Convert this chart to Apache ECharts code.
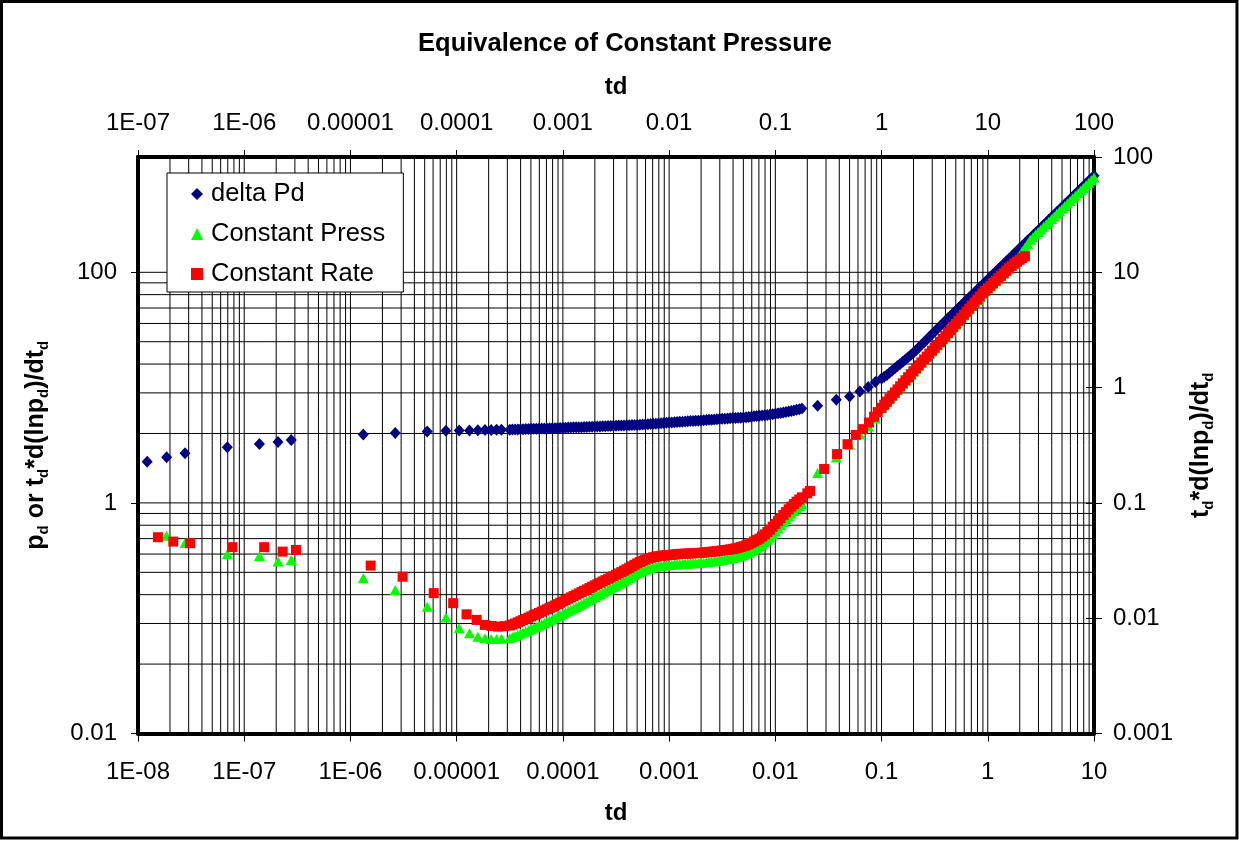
<!DOCTYPE html>
<html>
<head>
<meta charset="utf-8">
<title>Equivalence of Constant Pressure</title>
<script src="https://cdn.jsdelivr.net/npm/echarts@6/dist/echarts.min.js"></script>
<style>
  html, body { margin: 0; padding: 0; background: #fff; }
  #chart { width: 1239px; height: 841px; }
</style>
</head>
<body>
<div id="chart"></div>
<script>
// Dimensionless time (top axis) shared by the delta Pd and Constant Press series
const tdPress = [
  1.22e-7, 1.86e-7, 2.77e-7, 6.93e-7, 1.39e-6, 2.08e-6, 2.77e-6, 1.32e-5, 2.64e-5, 5.28e-5,
  7.92e-5, 1.056e-4, 1.32e-4, 1.584e-4, 1.848e-4, 2.112e-4, 2.376e-4, 2.64e-4,
  3.162e-4, 3.350e-4, 3.548e-4, 3.758e-4, 3.981e-4, 4.217e-4, 4.467e-4, 4.732e-4, 5.012e-4, 5.309e-4,
  5.623e-4, 5.957e-4, 6.310e-4, 6.683e-4, 7.079e-4, 7.499e-4, 7.943e-4, 8.414e-4, 8.913e-4, 9.441e-4,
  1.000e-3, 1.059e-3, 1.122e-3, 1.189e-3, 1.259e-3, 1.334e-3, 1.413e-3, 1.496e-3, 1.585e-3, 1.679e-3,
  1.778e-3, 1.884e-3, 1.995e-3, 2.113e-3, 2.239e-3, 2.371e-3, 2.512e-3, 2.661e-3, 2.818e-3, 2.985e-3,
  3.162e-3, 3.350e-3, 3.548e-3, 3.758e-3, 3.981e-3, 4.217e-3, 4.467e-3, 4.732e-3, 5.012e-3, 5.309e-3,
  5.623e-3, 5.957e-3, 6.310e-3, 6.683e-3, 7.079e-3, 7.499e-3, 7.943e-3, 8.414e-3, 8.913e-3, 9.441e-3,
  1.000e-2, 1.059e-2, 1.122e-2, 1.189e-2, 1.259e-2, 1.334e-2, 1.413e-2, 1.496e-2, 1.585e-2, 1.679e-2,
  1.778e-2, 1.884e-2, 1.995e-2, 2.113e-2, 2.239e-2, 2.371e-2, 2.512e-2, 2.661e-2, 2.818e-2, 2.985e-2,
  3.162e-2, 3.350e-2, 3.548e-2, 3.758e-2, 3.981e-2, 4.217e-2, 4.467e-2, 4.732e-2, 5.012e-2, 5.309e-2,
  5.623e-2, 5.957e-2, 6.310e-2, 6.683e-2, 7.079e-2, 7.499e-2, 7.943e-2, 8.414e-2, 8.913e-2, 9.441e-2,
  0.1000, 0.1059, 0.1122, 0.1189, 0.1259, 0.1334, 0.1413, 0.1496, 0.1585, 0.1679, 0.1778,
  0.25, 0.375, 0.5, 0.625, 0.75, 0.875,
  1.000, 1.059, 1.122, 1.189, 1.259, 1.334, 1.413, 1.496, 1.585, 1.679,
  1.778, 1.884, 1.995, 2.113, 2.239, 2.371, 2.512, 2.661, 2.818, 2.985,
  3.162, 3.350, 3.548, 3.758, 3.981, 4.217, 4.467, 4.732, 5.012, 5.309,
  5.623, 5.957, 6.310, 6.683, 7.079, 7.499, 7.943, 8.414, 8.913, 9.441,
  10.00, 10.59, 11.22, 11.89, 12.59, 13.34, 14.13, 14.96, 15.85, 16.79,
  17.78, 18.84, 19.95, 21.13, 22.39, 23.71, 25.12, 26.61, 28.18, 29.85,
  31.62, 33.50, 35.48, 37.58, 39.81, 42.17, 44.67, 47.32, 50.12, 53.09,
  56.23, 59.57, 63.10, 66.83, 70.79, 74.99, 79.43, 84.14, 89.13, 94.41, 100.0
];

// delta Pd
const pdDelta = [
  2.28, 2.49, 2.70, 3.04, 3.25, 3.38, 3.52, 3.92, 4.03, 4.16,
  4.22, 4.24, 4.25, 4.27, 4.28, 4.29, 4.30, 4.31,
  4.32, 4.325, 4.33, 4.34, 4.35, 4.36, 4.37, 4.38, 4.39, 4.395,
  4.40, 4.405, 4.41, 4.415, 4.42, 4.43, 4.44, 4.45, 4.46, 4.47,
  4.48, 4.49, 4.50, 4.51, 4.52, 4.525, 4.53, 4.54, 4.55, 4.56,
  4.57, 4.58, 4.59, 4.60, 4.61, 4.62, 4.63, 4.64, 4.65, 4.66,
  4.67, 4.68, 4.69, 4.70, 4.71, 4.72, 4.73, 4.74, 4.75, 4.765,
  4.78, 4.795, 4.81, 4.83, 4.85, 4.87, 4.89, 4.91, 4.93, 4.95,
  4.97, 4.99, 5.01, 5.03, 5.05, 5.065, 5.08, 5.10, 5.12, 5.135,
  5.15, 5.17, 5.19, 5.21, 5.23, 5.25, 5.27, 5.295, 5.32, 5.34,
  5.36, 5.38, 5.40, 5.42, 5.44, 5.455, 5.47, 5.49, 5.51, 5.54,
  5.57, 5.60, 5.63, 5.665, 5.70, 5.73, 5.76, 5.80, 5.84, 5.885,
  5.93, 5.98, 6.03, 6.085, 6.14, 6.20, 6.26, 6.335, 6.41, 6.50, 6.59,
  6.95, 7.83, 8.37, 9.25, 10.1, 11.2,
  12.0, 12.44, 12.89, 13.47, 14.07, 14.70, 15.36, 16.05, 16.77, 17.52,
  18.31, 19.16, 20.04, 21.13, 22.27, 23.48, 24.76, 26.14, 27.59, 29.09,
  30.67, 32.33, 34.09, 35.94, 37.89, 39.90, 42.02, 44.25, 46.60, 49.08,
  51.68, 54.43, 57.32, 60.36, 63.57, 66.94, 70.50, 74.24, 78.18, 82.33,
  86.71, 91.31, 96.16, 101.3, 106.6, 112.3, 118.3, 124.5, 131.1, 138.1,
  145.4, 153.2, 161.3, 169.9, 178.9, 188.4, 198.4, 208.9, 220.0, 231.7,
  244.0, 257.0, 270.6, 285.0, 300.1, 316.1, 332.8, 350.5, 369.1, 388.7,
  409.4, 431.1, 454.0, 478.1, 503.5, 530.3, 558.4, 588.1, 619.3, 652.2, 686.8
];

// Constant Press derivative (no value at the first time step)
const derivPress = [
  null, 0.518, 0.450, 0.359, 0.347, 0.310, 0.320, 0.222, 0.176, 0.126,
  0.1015, 0.0818, 0.0741, 0.0692, 0.0670, 0.0660, 0.0660, 0.0663,
  0.0674, 0.0688, 0.0702, 0.0717, 0.0733, 0.0750, 0.0768, 0.0787, 0.0807, 0.0826,
  0.0845, 0.0866, 0.0888, 0.0910, 0.0932, 0.0956, 0.0980, 0.1006, 0.1032, 0.1060,
  0.1089, 0.1120, 0.1152, 0.1183, 0.1215, 0.1250, 0.1285, 0.1322, 0.1360, 0.1400,
  0.1441, 0.1483, 0.1526, 0.1570, 0.1614, 0.1662, 0.1711, 0.1760, 0.1809, 0.1862,
  0.1916, 0.1973, 0.2031, 0.2095, 0.2160, 0.2229, 0.2298, 0.2374, 0.2451, 0.2513,
  0.2576, 0.2631, 0.2687, 0.2728, 0.2769, 0.2797, 0.2825, 0.2844, 0.2864, 0.2878,
  0.2893, 0.2907, 0.2922, 0.2940, 0.2957, 0.2963, 0.2969, 0.2978, 0.2987, 0.2996,
  0.3005, 0.3014, 0.3023, 0.3041, 0.3059, 0.3080, 0.3102, 0.3121, 0.3140, 0.3168,
  0.3197, 0.3226, 0.3255, 0.3291, 0.3327, 0.3371, 0.3415, 0.3477, 0.3540, 0.3614,
  0.3692, 0.3802, 0.3920, 0.4043, 0.4171, 0.4357, 0.4553, 0.4782, 0.5022, 0.5332,
  0.5662, 0.6018, 0.6396, 0.6797, 0.7223, 0.7646, 0.8094, 0.8518, 0.8965, 0.9381, 0.9806,
  1.82, 2.48, 3.20, 3.92, 4.60, 5.40,
  6.62, 7.04, 7.48, 7.96, 8.45, 8.98, 9.54, 10.15, 10.78, 11.46,
  12.19, 12.94, 13.73, 14.56, 15.45, 16.38, 17.35, 18.40, 19.52, 20.69,
  21.92, 23.26, 24.67, 26.14, 27.69, 29.43, 31.29, 33.25, 35.33, 37.56,
  39.93, 42.43, 45.08, 47.93, 50.95, 54.14, 57.55, 61.16, 65.00, 68.40,
  71.97, 75.66, 79.54, 83.69, 88.06, 92.57, 97.3, 102.4, 107.7, 113.0,
  119.5, 128.0, 140.0, 152.0, 164.0, 176.0, 191.5, 201.6, 212.3, 223.6,
  235.5, 248.0, 261.1, 275.0, 289.6, 305.0, 321.2, 338.2, 356.2, 375.1,
  395.1, 416.0, 438.1, 461.4, 485.9, 511.7, 538.9, 567.5, 597.6, 629.4, 662.8
];

// Dimensionless time (top axis) of the Constant Rate series
const tdRate = [
  1.54e-7, 2.15e-7, 3.09e-7, 7.72e-7, 1.54e-6, 2.30e-6, 3.07e-6, 1.55e-5, 3.10e-5, 6.08e-5,
  9.27e-5, 1.24e-4, 1.54e-4, 1.84e-4, 2.13e-4, 2.46e-4, 2.80e-4,
  3.162e-4, 3.350e-4, 3.548e-4, 3.758e-4, 3.981e-4, 4.217e-4, 4.467e-4, 4.732e-4, 5.012e-4, 5.309e-4,
  5.623e-4, 5.957e-4, 6.310e-4, 6.683e-4, 7.079e-4, 7.499e-4, 7.943e-4, 8.414e-4, 8.913e-4, 9.441e-4,
  1.000e-3, 1.059e-3, 1.122e-3, 1.189e-3, 1.259e-3, 1.334e-3, 1.413e-3, 1.496e-3, 1.585e-3, 1.679e-3,
  1.778e-3, 1.884e-3, 1.995e-3, 2.113e-3, 2.239e-3, 2.371e-3, 2.512e-3, 2.661e-3, 2.818e-3, 2.985e-3,
  3.162e-3, 3.350e-3, 3.548e-3, 3.758e-3, 3.981e-3, 4.217e-3, 4.467e-3, 4.732e-3, 5.012e-3, 5.309e-3,
  5.623e-3, 5.957e-3, 6.310e-3, 6.683e-3, 7.079e-3, 7.499e-3, 7.943e-3, 8.414e-3, 8.913e-3, 9.441e-3,
  1.000e-2, 1.059e-2, 1.122e-2, 1.189e-2, 1.259e-2, 1.334e-2, 1.413e-2, 1.496e-2, 1.585e-2, 1.679e-2,
  1.778e-2, 1.884e-2, 1.995e-2, 2.113e-2, 2.239e-2, 2.371e-2, 2.512e-2, 2.661e-2, 2.818e-2, 2.985e-2,
  3.162e-2, 3.350e-2, 3.548e-2, 3.758e-2, 3.981e-2, 4.217e-2, 4.467e-2, 4.732e-2, 5.012e-2, 5.309e-2,
  5.623e-2, 5.957e-2, 6.310e-2, 6.683e-2, 7.079e-2, 7.499e-2, 7.943e-2, 8.414e-2, 8.913e-2, 9.441e-2,
  0.1000, 0.1059, 0.1122, 0.1189, 0.1259, 0.1334, 0.1413, 0.1496, 0.1585, 0.1679, 0.1778,
  0.200, 0.212,
  0.288, 0.381, 0.478, 0.572, 0.670, 0.762, 0.85, 0.92,
  1.000, 1.059, 1.122, 1.189, 1.259, 1.334, 1.413, 1.496, 1.585, 1.679,
  1.778, 1.884, 1.995, 2.113, 2.239, 2.371, 2.512, 2.661, 2.818, 2.985,
  3.162, 3.350, 3.548, 3.758, 3.981, 4.217, 4.467, 4.732, 5.012, 5.309,
  5.623, 5.957, 6.310, 6.683, 7.079, 7.499, 7.943, 8.414, 8.913, 9.441,
  10.00, 10.59, 11.22, 11.89, 12.59, 13.34, 14.13, 14.96, 15.85, 16.79,
  17.78, 18.84, 19.95, 21.13, 22.39
];

// Constant Rate derivative
const derivRate = [
  0.504, 0.462, 0.447, 0.413, 0.413, 0.378, 0.391, 0.286, 0.229, 0.165,
  0.135, 0.108, 0.0966, 0.0874, 0.0857, 0.0845, 0.0852,
  0.0865, 0.0882, 0.0900, 0.0920, 0.0941, 0.0963, 0.0985, 0.1010, 0.1036, 0.1060,
  0.1084, 0.1112, 0.1140, 0.1168, 0.1196, 0.1226, 0.1257, 0.1290, 0.1324, 0.1361,
  0.1398, 0.1437, 0.1476, 0.1515, 0.1554, 0.1597, 0.1640, 0.1684, 0.1728, 0.1776,
  0.1824, 0.1874, 0.1924, 0.1975, 0.2027, 0.2083, 0.2139, 0.2196, 0.2253, 0.2316,
  0.2379, 0.2444, 0.2510, 0.2585, 0.2660, 0.2739, 0.2818, 0.2905, 0.2993, 0.3069,
  0.3146, 0.3213, 0.3281, 0.3331, 0.3381, 0.3415, 0.3449, 0.3473, 0.3498, 0.3515,
  0.3532, 0.3550, 0.3568, 0.3589, 0.3611, 0.3618, 0.3626, 0.3637, 0.3648, 0.3659,
  0.3670, 0.3681, 0.3692, 0.3710, 0.3729, 0.3751, 0.3774, 0.3792, 0.3811, 0.3838,
  0.3865, 0.3892, 0.3920, 0.3955, 0.3991, 0.4035, 0.4080, 0.4146, 0.4212, 0.4293,
  0.4375, 0.4501, 0.4627, 0.4765, 0.4903, 0.5118, 0.5333, 0.5594, 0.5855, 0.6216,
  0.6577, 0.6988, 0.7399, 0.7862, 0.8325, 0.8809, 0.9293, 0.9770, 1.0247, 1.0706, 1.1166,
  1.21, 1.27,
  1.97, 2.65, 3.23, 3.89, 4.36, 4.98, 5.59, 6.13,
  6.69, 7.11, 7.56, 8.04, 8.54, 9.07, 9.64, 10.25, 10.89, 11.58,
  12.31, 13.07, 13.87, 14.71, 15.61, 16.55, 17.53, 18.59, 19.72, 20.90,
  22.14, 23.49, 24.92, 26.40, 27.97, 29.73, 31.61, 33.59, 35.69, 37.94,
  40.33, 42.86, 45.54, 48.41, 51.46, 54.69, 58.13, 61.78, 65.66, 69.09,
  72.70, 76.42, 80.34, 84.54, 88.95, 93.51, 98.3, 103.4, 108.8, 113.7,
  118.9, 123.6, 128.5, 133.1, 137.8
];

// Axis ticks and their labels
const bottomTicks = [1e-8, 1e-7, 1e-6, 1e-5, 1e-4, 1e-3, 1e-2, 1e-1, 1, 10];
const bottomTickLabels = ['1E-08', '1E-07', '1E-06', '0.00001', '0.0001', '0.001', '0.01', '0.1', '1', '10'];
const topTicks = [1e-7, 1e-6, 1e-5, 1e-4, 1e-3, 1e-2, 1e-1, 1, 10, 100];
const topTickLabels = ['1E-07', '1E-06', '0.00001', '0.0001', '0.001', '0.01', '0.1', '1', '10', '100'];
const leftTicks = [0.01, 1, 100];
const leftTickLabels = ['0.01', '1', '100'];
const rightTicks = [0.001, 0.01, 0.1, 1, 10, 100];
const rightTickLabels = ['0.001', '0.01', '0.1', '1', '10', '100'];

const FONT = '"Liberation Sans", Arial, Helvetica, sans-serif';
const BOTTOM_RANGE = [1e-8, 10];
const TOP_RANGE = [1e-7, 100];
const LEFT_RANGE = [0.01, 1000];
const RIGHT_RANGE = [0.001, 100];

function labelFor(value, ticks, labels) {
  const e = Math.log10(value);
  for (let i = 0; i < ticks.length; i++) {
    if (Math.abs(Math.log10(ticks[i]) - e) < 1e-6) return labels[i];
  }
  return '';
}

// Vertical grid: every 1..9 x 10^n step on the time axes
const vGrid = [];
for (let e = -8; e <= 0; e++) {
  for (let k = 1; k <= 9; k++) {
    if (e === -8 && k === 1) continue;
    vGrid.push(k * Math.pow(10, e));
  }
}
// Horizontal grid of the left axis (major every two decades, minor at k^2 steps)
const hGrid = [];
[0.01, 1].forEach(function (base) {
  for (let k = 1; k <= 10; k++) {
    const v = base * k * k;
    if (v > 0.0100001 && !hGrid.some(function (h) { return Math.abs(h - v) < 1e-9; })) hGrid.push(v);
  }
});

const pressDeltaData = tdPress.map(function (t, i) { return [t, pdDelta[i]]; });
const pressDerivData = tdPress.map(function (t, i) { return [t, derivPress[i]]; })
  .filter(function (p) { return p[1] != null; });
const rateDerivData = tdRate.map(function (t, i) { return [t, derivRate[i]]; });

const labelStyle = { fontSize: 24, color: '#000', fontFamily: FONT };
const nameStyle = {
  fontSize: 25, fontWeight: 'bold', color: '#000', fontFamily: FONT,
  rich: {
    m: { fontSize: 25, fontWeight: 'bold', color: '#000', fontFamily: FONT, lineHeight: 30, verticalAlign: 'middle' },
    s: { fontSize: 15, fontWeight: 'bold', color: '#000', fontFamily: FONT, lineHeight: 15, verticalAlign: 'bottom' }
  }
};
const borderLine = { show: true, lineStyle: { color: '#000', width: 4 } };
const noSplit = { show: false };

const chart = echarts.init(document.getElementById('chart'), null, { renderer: 'canvas' });

chart.setOption({
  animation: false,
  backgroundColor: '#fff',
  title: {
    text: 'Equivalence of Constant Pressure',
    left: 620, top: 26, textAlign: 'center', padding: 5,
    textStyle: { fontSize: 25.5, fontWeight: 'bold', color: '#000', fontFamily: FONT }
  },
  grid: { left: 138, top: 157, width: 956, height: 576.5, containLabel: false, outerBoundsMode: 'none' },
  legend: {
    data: ['delta Pd', 'Constant Press', 'Constant Rate'],
    orient: 'vertical', left: 167, top: 173,
    backgroundColor: '#fff', borderColor: '#000', borderWidth: 1, borderRadius: 0,
    padding: [8, 18, 5, 24], itemGap: 14, itemWidth: 12, itemHeight: 12,
    textStyle: { fontSize: 25.5, color: '#000', fontFamily: FONT, lineHeight: 25.5, padding: [0, 0, 0, 3] },
    selectedMode: false
  },
  xAxis: [
    {
      type: 'log', logBase: 10, position: 'bottom', min: BOTTOM_RANGE[0], max: BOTTOM_RANGE[1],
      axisLine: borderLine,
      axisTick: { show: true, length: 8, lineStyle: { color: '#000', width: 1 }, customValues: bottomTicks },
      axisLabel: Object.assign({ margin: 27, showMinLabel: true, showMaxLabel: true, customValues: bottomTicks,
        formatter: function (v) { return labelFor(v, bottomTicks, bottomTickLabels); } }, labelStyle),
      splitLine: noSplit, minorTick: { show: false }, minorSplitLine: noSplit,
      name: 'td', nameLocation: 'middle', nameGap: 68,
      nameTextStyle: { fontSize: 24, fontWeight: 'bold', color: '#000', fontFamily: FONT }
    },
    {
      type: 'log', logBase: 10, position: 'top', min: TOP_RANGE[0], max: TOP_RANGE[1],
      axisLine: borderLine,
      axisTick: { show: true, length: 7, lineStyle: { color: '#000', width: 1 }, customValues: topTicks },
      axisLabel: Object.assign({ margin: 22, showMinLabel: true, showMaxLabel: true, customValues: topTicks,
        formatter: function (v) { return labelFor(v, topTicks, topTickLabels); } }, labelStyle),
      splitLine: noSplit, minorTick: { show: false }, minorSplitLine: noSplit,
      name: 'td', nameLocation: 'middle', nameGap: 58,
      nameTextStyle: { fontSize: 24, fontWeight: 'bold', color: '#000', fontFamily: FONT }
    }
  ],
  yAxis: [
    {
      type: 'log', logBase: 10, position: 'left', min: LEFT_RANGE[0], max: LEFT_RANGE[1],
      axisLine: borderLine,
      axisTick: { show: true, length: 7, lineStyle: { color: '#000', width: 1 }, customValues: leftTicks },
      axisLabel: Object.assign({ margin: 21, showMinLabel: true, showMaxLabel: true, customValues: leftTicks,
        formatter: function (v) { return labelFor(v, leftTicks, leftTickLabels); } }, labelStyle),
      splitLine: noSplit, minorTick: { show: false }, minorSplitLine: noSplit,
      name: '{m|p}{s|d}{m| or t}{s|d}{m|*d(lnp}{s|d}{m|)/dt}{s|d}',
      nameLocation: 'middle', nameRotate: 90, nameGap: 87, nameTextStyle: nameStyle
    },
    {
      type: 'log', logBase: 10, position: 'right', min: RIGHT_RANGE[0], max: RIGHT_RANGE[1],
      axisLine: borderLine,
      axisTick: { show: true, length: 8, lineStyle: { color: '#000', width: 1 }, customValues: rightTicks },
      axisLabel: Object.assign({ margin: 19, showMinLabel: true, showMaxLabel: true, customValues: rightTicks,
        formatter: function (v) { return labelFor(v, rightTicks, rightTickLabels); } }, labelStyle),
      splitLine: noSplit, minorTick: { show: false }, minorSplitLine: noSplit,
      name: '{m|t}{s|d}{m|*d(lnp}{s|d}{m|)/dt}{s|d}',
      nameLocation: 'middle', nameRotate: 90, nameGap: 92, nameTextStyle: nameStyle
    },
    {
      // inner half of the right-hand ticks
      type: 'log', logBase: 10, position: 'right', min: RIGHT_RANGE[0], max: RIGHT_RANGE[1],
      axisLine: { show: false },
      axisTick: { show: true, inside: true, length: 8, lineStyle: { color: '#000', width: 1 }, customValues: rightTicks },
      axisLabel: { show: false },
      splitLine: noSplit, minorTick: { show: false }, minorSplitLine: noSplit
    }
  ],
  series: [
    {
      name: 'vertical grid', type: 'custom', xAxisIndex: 0, yAxisIndex: 0, silent: true, z: 1,
      data: vGrid.map(function (v) { return [v, 1]; }),
      renderItem: function (params, api) {
        const x = api.value(0);
        const a = api.coord([x, LEFT_RANGE[0]]);
        const b = api.coord([x, LEFT_RANGE[1]]);
        return { type: 'line', shape: { x1: a[0], y1: a[1], x2: b[0], y2: b[1] },
          style: { stroke: '#000', lineWidth: 1 } };
      }
    },
    {
      name: 'horizontal grid', type: 'custom', xAxisIndex: 0, yAxisIndex: 0, silent: true, z: 1,
      data: hGrid.map(function (v) { return [1, v]; }),
      renderItem: function (params, api) {
        const y = api.value(1);
        const a = api.coord([BOTTOM_RANGE[0], y]);
        const b = api.coord([BOTTOM_RANGE[1], y]);
        return { type: 'line', shape: { x1: a[0], y1: a[1], x2: b[0], y2: b[1] },
          style: { stroke: '#000', lineWidth: 1 } };
      }
    },
    {
      name: 'delta Pd', type: 'scatter', xAxisIndex: 1, yAxisIndex: 0, z: 3, silent: true,
      symbol: 'diamond', symbolSize: [11, 12],
      itemStyle: { color: '#000080', opacity: 1 },
      data: pressDeltaData
    },
    {
      name: 'Constant Press', type: 'scatter', xAxisIndex: 1, yAxisIndex: 0, z: 4, silent: true,
      symbol: 'triangle', symbolSize: [11, 10],
      itemStyle: { color: '#00FF00', opacity: 1 },
      data: pressDerivData
    },
    {
      name: 'Constant Rate', type: 'scatter', xAxisIndex: 1, yAxisIndex: 0, z: 5, silent: true,
      symbol: 'rect', symbolSize: 10,
      itemStyle: { color: '#FF0000', opacity: 1 },
      data: rateDerivData
    }
  ],
  graphic: [
    {
      type: 'rect', silent: true, z: 100,
      shape: { x: 1.5, y: 1.5, width: 1235.5, height: 836.5 },
      style: { fill: 'none', stroke: '#000', lineWidth: 3 }
    }
  ]
});
</script>
</body>
</html>
